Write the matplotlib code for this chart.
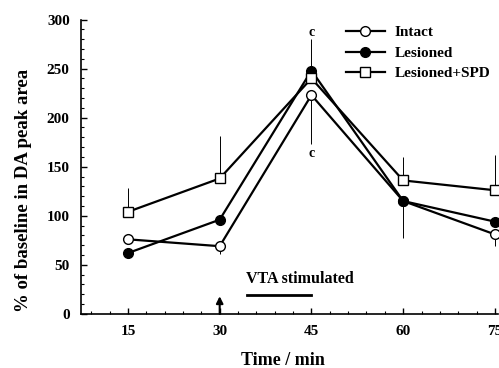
import matplotlib
matplotlib.use("Agg")
import matplotlib.pyplot as plt
from matplotlib.ticker import MultipleLocator

time = [15, 30, 45, 60, 75]
intact = [76, 69, 223, 115, 81]
intact_lo = [0, 8, 50, 0, 12]
intact_hi = [0, 0, 0, 0, 0]
lesioned = [62, 96, 248, 115, 94]
lesioned_lo = [0, 0, 0, 38, 0]
lesioned_hi = [0, 0, 32, 0, 0]
spd = [104, 138, 240, 136, 126]
spd_lo = [0, 0, 0, 0, 0]
spd_hi = [24, 43, 0, 24, 36]

plt.rcParams['font.family'] = ['Liberation Serif', 'DejaVu Serif']
plt.rcParams['font.weight'] = 'bold'

fig = plt.figure(figsize=(4.99, 3.68), dpi=100)
ax = fig.add_axes([0.162, 0.147, 0.836, 0.80])

lw = 1.6
ax.errorbar(time, intact, yerr=[intact_lo, intact_hi], fmt='none', ecolor='black', elinewidth=0.7)
ax.errorbar(time, lesioned, yerr=[lesioned_lo, lesioned_hi], fmt='none', ecolor='black', elinewidth=0.7)
ax.errorbar(time, spd, yerr=[spd_lo, spd_hi], fmt='none', ecolor='black', elinewidth=0.7, linestyle='--')

ax.plot(time, intact, '-o', color='black', mfc='white', mec='black', ms=7, lw=lw, label='Intact')
ax.plot(time, lesioned, '-o', color='black', mfc='black', mec='black', ms=7, lw=lw, label='Lesioned')
ax.plot(time, spd, '-s', color='black', mfc='white', mec='black', ms=6.5, lw=lw, label='Lesioned+SPD')

ax.text(45, 287, 'c', ha='center', va='center', fontsize=10)
ax.text(45, 163, 'c', ha='center', va='center', fontsize=10)

ax.annotate('', xy=(30, 18), xytext=(30, 0),
            arrowprops=dict(arrowstyle='-|>', color='black', lw=1.5, mutation_scale=10,
                            shrinkA=0, shrinkB=0))
ax.plot([34.4, 45], [19.5, 19.5], color='black', lw=2)
ax.text(34.3, 36, 'VTA stimulated', ha='left', va='center', fontsize=11.5)

ax.set_xlim(7.3, 75.5)
ax.set_ylim(0, 300)
ax.set_xticks(time)
ax.set_yticks([0, 50, 100, 150, 200, 250, 300])
ax.xaxis.set_minor_locator(MultipleLocator(3))
ax.yaxis.set_minor_locator(MultipleLocator(10))
ax.tick_params(direction='in', length=4, width=1, labelsize=11, pad=8)
ax.tick_params(which='minor', direction='in', length=2, width=0.8)
ax.spines['top'].set_visible(False)
ax.spines['right'].set_visible(False)
ax.spines['left'].set_linewidth(1.2)
ax.spines['bottom'].set_linewidth(1.2)
for lab in ax.get_xticklabels() + ax.get_yticklabels():
    lab.set_fontweight('bold')

ax.set_xlabel('Time / min', fontsize=13, fontweight='bold')
ax.xaxis.set_label_coords(0.485, -0.13)
ax.set_ylabel('% of baseline in DA peak area', fontsize=13.5, fontweight='bold')
ax.yaxis.set_label_coords(-0.118, 0.42)

leg = ax.legend(loc='upper left', bbox_to_anchor=(0.62, 1.0), frameon=False, fontsize=11,
                handlelength=2.6, handletextpad=0.6, labelspacing=0.45, borderaxespad=0)
for t in leg.get_texts():
    t.set_fontweight('bold')

fig.savefig('out.png', dpi=100)
